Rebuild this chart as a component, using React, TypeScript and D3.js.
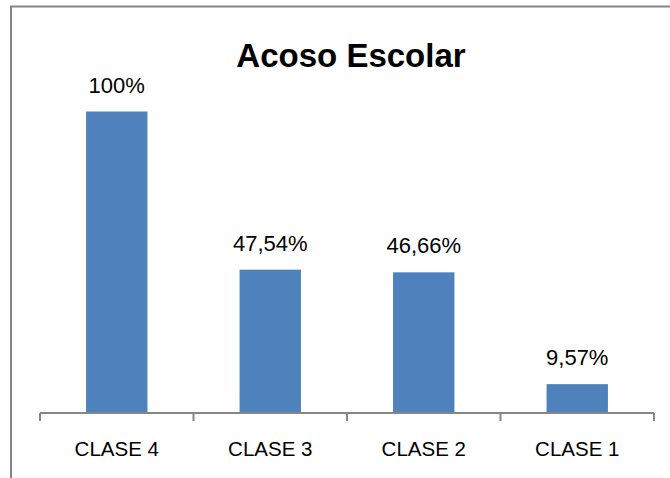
import React, { useEffect, useRef } from 'react';
import * as d3 from 'd3';

const categories = ['CLASE 4', 'CLASE 3', 'CLASE 2', 'CLASE 1'];
const values = [1, 0.4754, 0.4666, 0.0957];
const valueLabels = ['100%', '47,54%', '46,66%', '9,57%'];
const title = 'Acoso Escolar';

const WIDTH = 670;
const HEIGHT = 478;

const App: React.FC = () => {
  const svgRef = useRef<SVGSVGElement>(null);

  useEffect(() => {
    if (!svgRef.current) return;
    const svg = d3.select(svgRef.current);
    svg.selectAll('*').remove();

    const font = '"Liberation Sans", Arial, sans-serif';
    const axisColor = '#868686';

    // chart frame (cropped on the right and bottom)
    svg
      .append('rect')
      .attr('x', 11)
      .attr('y', 6.5)
      .attr('width', 700)
      .attr('height', 500)
      .attr('fill', '#fff')
      .attr('stroke', axisColor)
      .attr('stroke-width', 2);

    const x = d3.scaleBand().domain(categories).range([40, 654]).padding(0);
    const y = d3.scaleLinear().domain([0, 1]).range([413, 111.5]);
    const barW = x.bandwidth() * 0.4;

    svg
      .append('text')
      .attr('x', 351)
      .attr('y', 67)
      .attr('text-anchor', 'middle')
      .attr('font-family', font)
      .attr('font-weight', 'bold')
      .attr('font-size', 33)
      .attr('fill', '#000')
      .text(title);

    // bars
    svg
      .selectAll('rect.bar')
      .data(values)
      .enter()
      .append('rect')
      .attr('class', 'bar')
      .attr('x', (_, i) => (x(categories[i]) || 0) + (x.bandwidth() - barW) / 2)
      .attr('y', d => y(d))
      .attr('width', barW)
      .attr('height', d => y(0) - y(d))
      .attr('fill', '#4f81bd');

    // data labels
    svg
      .selectAll('text.val')
      .data(values)
      .enter()
      .append('text')
      .attr('class', 'val')
      .attr('x', (_, i) => (x(categories[i]) || 0) + x.bandwidth() / 2)
      .attr('y', d => y(d) - 19)
      .attr('text-anchor', 'middle')
      .attr('font-family', font)
      .attr('font-size', 22)
      .attr('fill', '#000')
      .text((_, i) => valueLabels[i]);

    // x axis
    const axis = svg
      .append('g')
      .attr('transform', `translate(0,${y(0)})`)
      .call(
        d3
          .axisBottom(x)
          .tickSize(0)
          .tickPadding(0)
      );
    axis.select('.domain').remove();
    axis.selectAll('text').remove();
    axis.selectAll('line').remove();

    const [x0, x1] = x.range();
    axis
      .append('line')
      .attr('x1', x0)
      .attr('x2', x1)
      .attr('y1', 0)
      .attr('y2', 0)
      .attr('stroke', axisColor)
      .attr('stroke-width', 2);

    const edges = categories.map(c => x(c) || 0).concat([x1]);
    axis
      .selectAll('line.tick-edge')
      .data(edges)
      .enter()
      .append('line')
      .attr('class', 'tick-edge')
      .attr('x1', d => d)
      .attr('x2', d => d)
      .attr('y1', 0)
      .attr('y2', 8)
      .attr('stroke', axisColor)
      .attr('stroke-width', 2);

    axis
      .selectAll('text.cat')
      .data(categories)
      .enter()
      .append('text')
      .attr('class', 'cat')
      .attr('x', d => (x(d) || 0) + x.bandwidth() / 2)
      .attr('y', 43)
      .attr('text-anchor', 'middle')
      .attr('font-family', font)
      .attr('font-size', 20.5)
      .attr('fill', '#000')
      .text(d => d);
  }, []);

  return (
    <svg
      ref={svgRef}
      width={WIDTH}
      height={HEIGHT}
      style={{ position: 'absolute', left: 0, top: 0, background: '#fff' }}
    ></svg>
  );
};

export default App;
